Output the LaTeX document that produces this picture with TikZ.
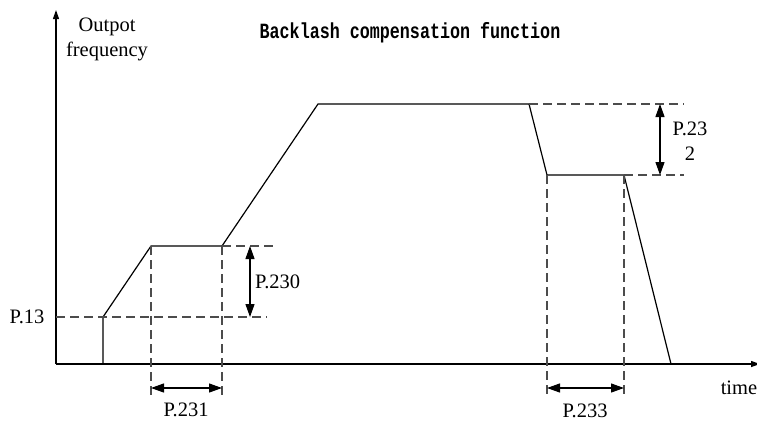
\documentclass[tikz,border=0pt]{standalone}
\usepackage{graphicx}
\usepackage{fontspec}
\setmainfont{Liberation Serif}
\newfontfamily\titlefont{Liberation Mono}
\usetikzlibrary{arrows.meta}

\begin{document}
\begin{tikzpicture}[x=1pt,y=-1pt,>=stealth,
        curve/.style={line width=1.2pt,line join=miter},
        guide/.style={draw=black!70,line width=1.2pt,dash pattern=on 9pt off 5pt},
        axis/.style={line width=1.2pt,-{Triangle[length=9pt,width=6pt]}},
        dimarrow/.style={line width=1.2pt,
                         {Triangle[length=13pt,width=9pt]}-{Triangle[length=13pt,width=9pt]}},
        lbl/.style={font=\fontsize{20.5}{25}\selectfont,inner sep=0pt,align=center}]
        \useasboundingbox (0,0) rectangle (757,423);

        % axes
        \coordinate (origin) at (56,364);
        \coordinate (ytop) at (56,10);
        \coordinate (xend) at (760,364);
        \draw[axis] (origin) -- (ytop);
        \draw[axis] (origin) -- (xend);

        % output frequency profile
        \coordinate (start) at (103,364);
        \coordinate (p13) at (103,317);
        \coordinate (lowa) at (151,246);
        \coordinate (lowb) at (222,246);
        \coordinate (topa) at (318,104);
        \coordinate (topb) at (529,104);
        \coordinate (mida) at (547,175);
        \coordinate (midb) at (624,175);
        \coordinate (stop) at (671,364);
        \draw[curve] (start) -- (p13) -- (lowa) -- (lowb) -- (topa) -- (topb)
              -- (mida) -- (midb) -- (stop);

        % guide lines
        \coordinate (p13l) at (56,317);
        \coordinate (p13r) at (267,317);
        \coordinate (lowr) at (274,246);
        \coordinate (lowad) at (151,397);
        \coordinate (lowbd) at (222,397);
        \coordinate (topr) at (684,104);
        \coordinate (midr) at (684,175);
        \coordinate (midad) at (547,397);
        \coordinate (midbd) at (624,397);
        \draw[guide] (p13l) -- (p13r);
        \draw[guide] (lowb) -- (lowr);
        \draw[guide] (lowa) -- (lowad);
        \draw[guide] (lowb) -- (lowbd);
        \draw[guide] (topb) -- (topr);
        \draw[guide] (midb) -- (midr);
        \draw[guide] (mida) -- (midad);
        \draw[guide] (midb) -- (midbd);

        % dimensions
        \coordinate (d230a) at (250,246);
        \coordinate (d230b) at (250,317);
        \coordinate (d231a) at (151,388);
        \coordinate (d231b) at (222,388);
        \coordinate (d232a) at (660,104);
        \coordinate (d232b) at (660,175);
        \coordinate (d233a) at (547,388);
        \coordinate (d233b) at (624,388);
        \draw[dimarrow] (d230a) -- (d230b);
        \draw[dimarrow] (d231a) -- (d231b);
        \draw[dimarrow] (d232a) -- (d232b);
        \draw[dimarrow] (d233a) -- (d233b);

        % labels
        \node[lbl,anchor=west] (l230) at (255,282) {P.230};
        \node[lbl] (l231) at (186,410) {P.231};
        \node[lbl] (l232) at (690,141) {P.23\\2};
        \node[lbl] (l233) at (585,411) {P.233};
        \node[lbl] (l13) at (27,317) {P.13};
        \node[lbl] (ltime) at (739,388) {time};
        \node[lbl] (lfreq) at (107,39) {Outpot\\frequency};
        \node[inner sep=0pt,font=\titlefont\bfseries\fontsize{16.7}{18}\selectfont]
              (title) at (410,33) {\scalebox{1}[1.3]{Backlash compensation function}};
\end{tikzpicture}
\end{document}
